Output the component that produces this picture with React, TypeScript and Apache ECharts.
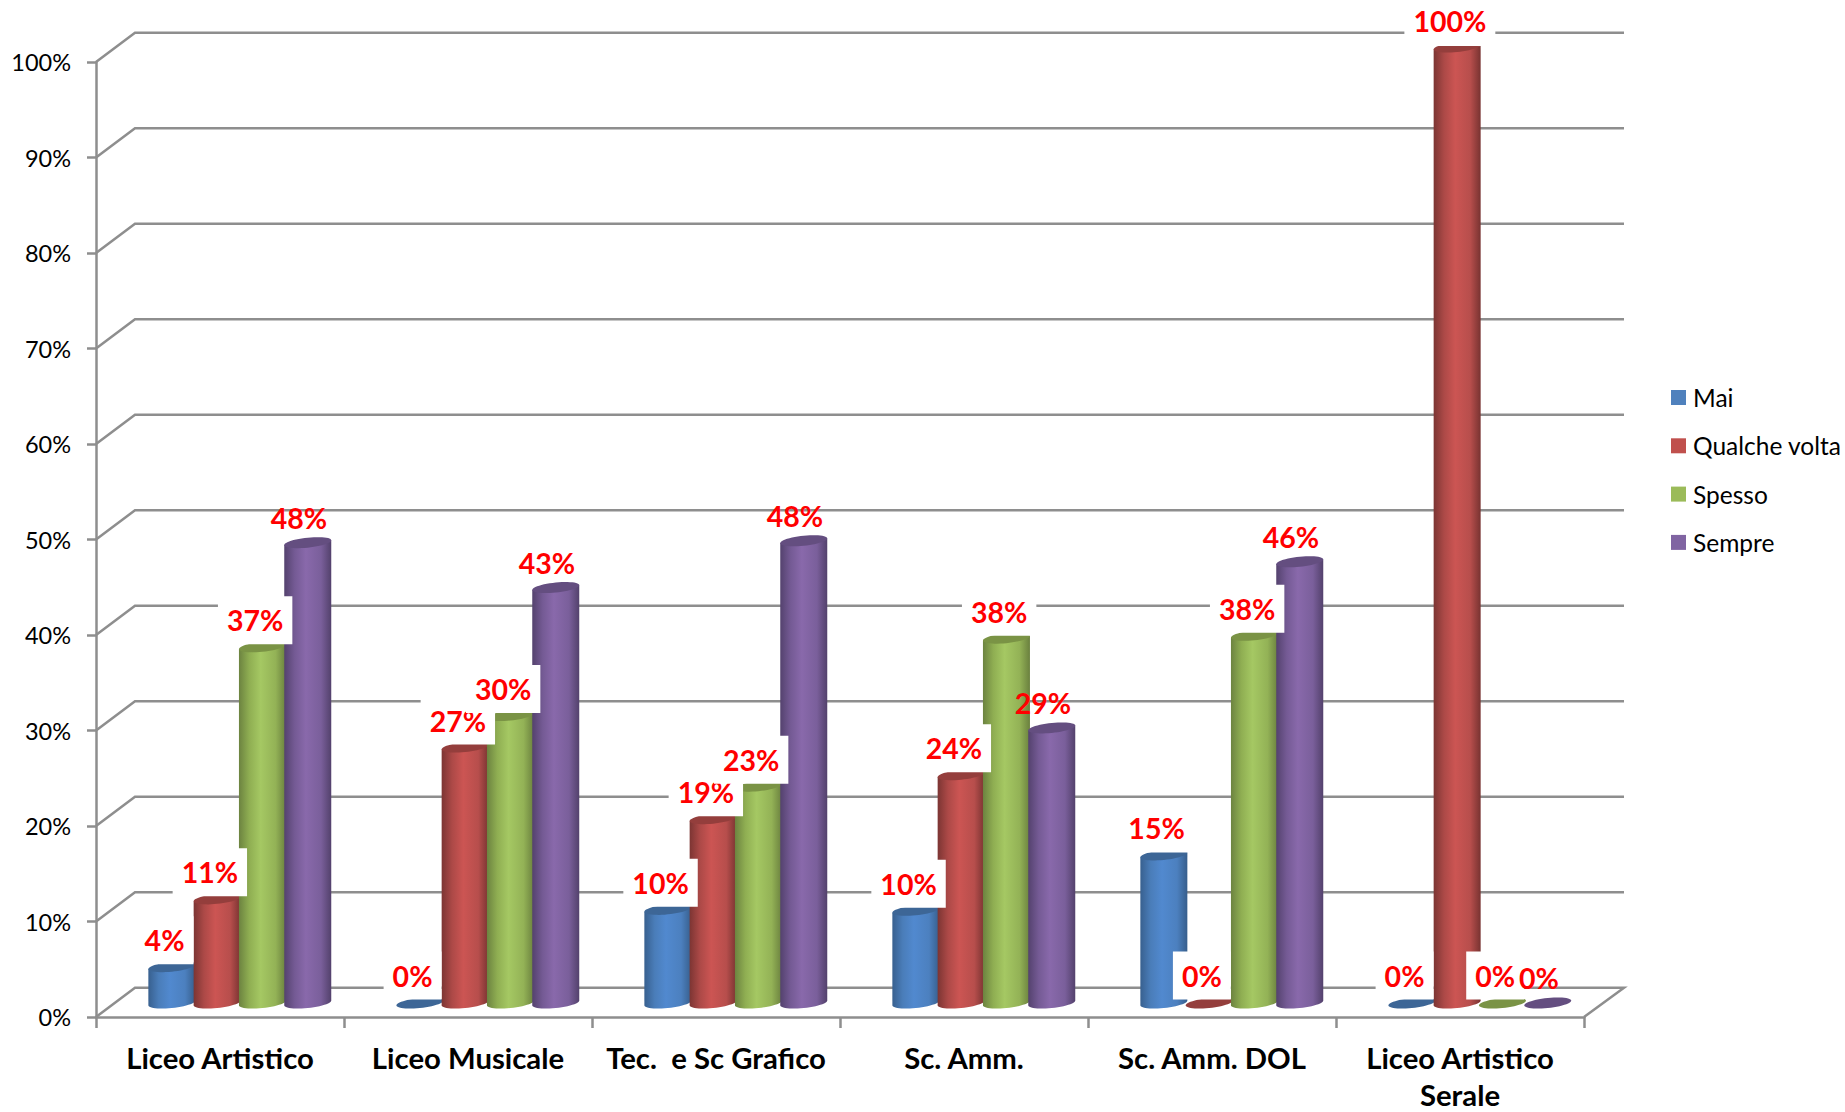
import React, { useEffect, useRef } from "react";
import * as echarts from "echarts";

const categories = [
  "Liceo Artistico",
  "Liceo Musicale",
  "Tec.  e Sc Grafico",
  "Sc. Amm.",
  "Sc. Amm. DOL",
  "Liceo Artistico\nSerale",
];
const seriesNames = ["Mai", "Qualche volta", "Spesso", "Sempre"];
const mai = [3.7, 0, 9.7, 9.6, 15.4, 0];
const qualcheVolta = [10.8, 26.7, 19.2, 23.8, 0, 100];
const spesso = [37.2, 30, 22.6, 38.1, 38.4, 0];
const sempre = [48.1, 43.4, 48.3, 28.7, 46.1, 0];
const yTicks = [0, 10, 20, 30, 40, 50, 60, 70, 80, 90, 100];

const legendColors = ["#4F81BD", "#C0504D", "#9BBB59", "#8064A2"];
const bodyStops = [
  ["#38608F", "#4A7DB9", "#5189CF", "#4C80BF", "#375E8C"],
  ["#7C3533", "#AC4947", "#CC5553", "#B74E4C", "#783331"],
  ["#6C8340", "#8FAE52", "#A5C863", "#93B256", "#6A803E"],
  ["#54426E", "#745A94", "#8969AB", "#7A5F9B", "#53416C"],
];
const capColors = ["#3D6696", "#943E3C", "#7A9345", "#644E80"];
const GRID_COLOR = "#8E8E8E";
const FONT = "Lato";

const DEPTH_X = 39;
const DEPTH_Y = 29.3;
const BAR_PITCH = 45.3;
const BAR_W = 47;
const TILT = 0.1;
const CAP_RY = 5;

function capPoints(cx: number, cy: number, rx: number, clipY: number) {
  const pts: number[][] = [];
  for (let i = 0; i < 48; i++) {
    const t = (i / 48) * Math.PI * 2;
    const x = cx + rx * Math.cos(t);
    const y = cy + CAP_RY * Math.sin(t) - TILT * rx * Math.cos(t);
    pts.push([x, Math.max(y, clipY)]);
  }
  return pts;
}

function bodyPoints(cx: number, top: number, base: number, rx: number, clipY: number) {
  const pts: number[][] = [[cx - rx, Math.max(top + TILT * rx, clipY)]];
  for (let i = 0; i <= 24; i++) {
    const t = Math.PI - (i / 24) * Math.PI;
    pts.push([
      cx + rx * Math.cos(t),
      base + CAP_RY * Math.sin(t) - TILT * rx * Math.cos(t),
    ]);
  }
  pts.push([cx + rx, Math.max(top - TILT * rx, clipY)]);
  return pts;
}

function cylinderSeries(name: string, values: number[], j: number) {
  return {
    name,
    type: "custom",
    itemStyle: { color: legendColors[j] },
    data: values.map((v, i) => [i, v]),
    encode: { x: 0, y: 1 },
    clip: false,
    renderItem: (_params: any, api: any) => {
      const v = api.value(1);
      const [catX, topRaw] = api.coord([api.value(0), v]);
      const [, baseRaw] = api.coord([api.value(0), 0]);
      const [, hundred] = api.coord([0, 100]);
      const cx = catX + DEPTH_X / 2 + 0.3 + (j - 1.5) * BAR_PITCH;
      const top = topRaw - 15;
      const base = baseRaw - 14;
      const clipY = hundred - 16;
      const rx = BAR_W / 2;
      const stops = bodyStops[j];
      const children: any[] = [];
      if (v > 0) {
        children.push({
          type: "polygon",
          z2: 10 + j,
          shape: { points: bodyPoints(cx, top, base, rx, clipY) },
          style: {
            fill: new echarts.graphic.LinearGradient(0, 0, 1, 0, [
              { offset: 0, color: stops[0] },
              { offset: 0.22, color: stops[1] },
              { offset: 0.46, color: stops[2] },
              { offset: 0.78, color: stops[3] },
              { offset: 1, color: stops[4] },
            ]),
          },
        });
      }
      children.push({
        type: "polygon",
        z2: 10 + j,
        shape: { points: capPoints(cx, v > 0 ? top : base, rx, clipY) },
        style: { fill: capColors[j] },
      });
      const boxed = j < 3;
      children.push({
        type: "text",
        z2: 100 + j,
        x: cx + (boxed ? -7.3 : -8.8),
        y: topRaw - 14.5 + (boxed ? -27 : -25),
        style: {
          text: Math.round(v) + "%",
          fill: "#FF0000",
          font: `bold 28.5px ${FONT}`,
          align: "center",
          verticalAlign: "middle",
          lineHeight: 30,
          padding: [9, 9],
          backgroundColor: boxed ? "#FFFFFF" : undefined,
        },
      });
      return { type: "group", children };
    },
  };
}

const wallSeries = {
  name: "wall",
  type: "custom",
  z: 1,
  silent: true,
  clip: false,
  data: yTicks.map((t) => [0, t]),
  encode: { x: 0, y: 1 },
  renderItem: (params: any, api: any) => {
    const v = api.value(1);
    const [, y] = api.coord([0, v]);
    const left = params.coordSys.x;
    const right = left + params.coordSys.width;
    const points = [
      [left, y],
      [left + DEPTH_X, y - DEPTH_Y],
      [right + DEPTH_X + 1, y - DEPTH_Y],
    ];
    if (v === 0) points.push([right, y]);
    return {
      type: "polyline",
      shape: { points },
      style: { stroke: GRID_COLOR, lineWidth: 2.5, fill: "none" },
    };
  },
};

export default function App() {
  const ref = useRef<HTMLDivElement>(null);
  useEffect(() => {
    const chart = echarts.init(ref.current!, null, { renderer: "svg" });
    chart.setOption({
      animation: false,
      backgroundColor: "#FFFFFF",
      grid: {
        left: 96,
        top: 62,
        width: 1488,
        height: 955,
        containLabel: false,
        outerBoundsMode: "none",
      },
      legend: {
        data: seriesNames,
        orient: "vertical",
        left: 1671,
        top: 385,
        padding: 0,
        itemWidth: 15,
        itemHeight: 15,
        itemGap: 23.3,
        icon: "rect",
        selectedMode: false,
        textStyle: { fontFamily: FONT, fontSize: 24.5, color: "#000000", padding: [0, 0, 0, 2] },
      },
      xAxis: {
        type: "category",
        data: categories,
        axisLine: { lineStyle: { color: GRID_COLOR, width: 2.5 } },
        axisTick: { show: true, length: 11, lineStyle: { color: GRID_COLOR, width: 2.5 } },
        axisLabel: {
          interval: 0,
          margin: 22,
          color: "#000000",
          fontFamily: FONT,
          fontWeight: "bold",
          fontSize: 29.3,
          lineHeight: 37,
        },
      },
      yAxis: {
        type: "value",
        min: 0,
        max: 100,
        interval: 10,
        splitLine: { show: false },
        axisLine: { show: true, lineStyle: { color: GRID_COLOR, width: 2.5 } },
        axisTick: { show: true, length: 9, lineStyle: { color: GRID_COLOR, width: 2.5 } },
        axisLabel: {
          formatter: "{value}%",
          margin: 25,
          color: "#000000",
          fontFamily: FONT,
          fontSize: 23.5,
        },
      },
      series: [
        wallSeries,
        cylinderSeries(seriesNames[0], mai, 0),
        cylinderSeries(seriesNames[1], qualcheVolta, 1),
        cylinderSeries(seriesNames[2], spesso, 2),
        cylinderSeries(seriesNames[3], sempre, 3),
      ],
    });
    return () => chart.dispose();
  }, []);
  return (
    <div
      ref={ref}
      style={{ position: "absolute", left: 0, top: 0, width: 1845, height: 1112 }}
    />
  );
}
